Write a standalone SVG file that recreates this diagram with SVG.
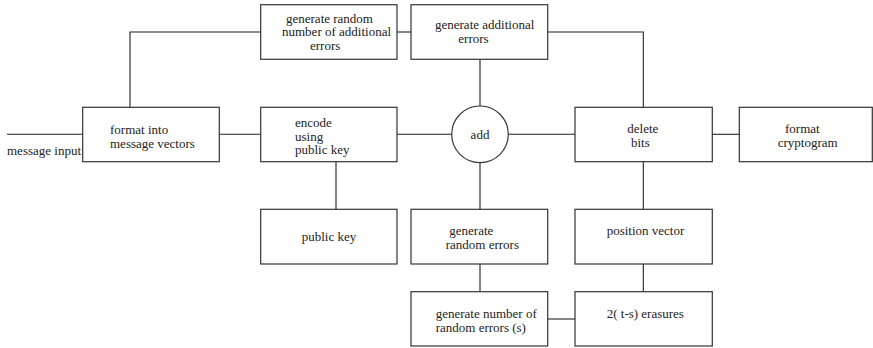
<svg xmlns="http://www.w3.org/2000/svg" width="873" height="348" viewBox="0 0 873 348">
  <style>
    .box { fill: #ffffff; stroke: #333333; stroke-width: 1.2; }
    .wire { fill: none; stroke: #222222; stroke-width: 1.1; }
    .lbl { font-family: 'Liberation Serif', 'DejaVu Serif', 'Times New Roman', serif; font-size: 13px; fill: #222222; }
  </style>
  <rect width="873" height="348" fill="#ffffff"/>

  <!-- connectors -->
  <g id="connectors">
    <path class="wire" d="M7,134.3 H82.7"/>
    <path class="wire" d="M219.3,134.3 H260.7"/>
    <path class="wire" d="M130,107.3 V32 H260.7"/>
    <path class="wire" d="M397,32 H411"/>
    <path class="wire" d="M547.7,32 H643.3 V107.3"/>
    <path class="wire" d="M480,59.3 V106"/>
    <path class="wire" d="M397,134.3 H451.7"/>
    <path class="wire" d="M508.3,134.3 H575"/>
    <path class="wire" d="M712.3,134.3 H739.3"/>
    <path class="wire" d="M336,161.7 V209.3"/>
    <path class="wire" d="M480,162.6 V209.3"/>
    <path class="wire" d="M480,264 V291.7"/>
    <path class="wire" d="M643.3,161.7 V209.3"/>
    <path class="wire" d="M643.3,264 V291.7"/>
    <path class="wire" d="M547.7,319 H575"/>
  </g>

  <g class="lbl" font-family="Liberation Serif, DejaVu Serif, serif" font-size="13">
    <text x="7" y="155">message input</text>

    <g id="format-vectors">
      <rect class="box" x="82.7" y="107.3" width="136.6" height="54.4"/>
      <text x="110" y="134.3">format into</text>
      <text x="110" y="148">message vectors</text>
    </g>

    <g id="gen-random-number">
      <rect class="box" x="260.7" y="4.7" width="136.3" height="54.6"/>
      <text x="286" y="22.7">generate random</text>
      <text x="282" y="36.3">number of additional</text>
      <text x="310" y="50">errors</text>
    </g>

    <g id="gen-additional">
      <rect class="box" x="411" y="4.7" width="136.7" height="54.6"/>
      <text x="435" y="29.3">generate additional</text>
      <text x="458.3" y="42.7">errors</text>
    </g>

    <g id="encode">
      <rect class="box" x="260.7" y="107.3" width="136.3" height="54.4"/>
      <text x="295" y="127.2">encode</text>
      <text x="295" y="140.6">using</text>
      <text x="295" y="154">public key</text>
    </g>

    <g id="add">
      <circle class="box" cx="480" cy="134.3" r="28.3"/>
      <text x="480" y="138.5" text-anchor="middle">add</text>
    </g>

    <g id="delete-bits">
      <rect class="box" x="575" y="107.3" width="137.3" height="54.4"/>
      <text x="627.3" y="133.3">delete</text>
      <text x="631" y="146.7">bits</text>
    </g>

    <g id="format-cryptogram">
      <rect class="box" x="739.3" y="107.3" width="133" height="54.4"/>
      <text x="785" y="133.3">format</text>
      <text x="777.7" y="146.7">cryptogram</text>
    </g>

    <g id="public-key">
      <rect class="box" x="260.7" y="209.3" width="136.3" height="54.7"/>
      <text x="301.7" y="241">public key</text>
    </g>

    <g id="gen-random-errors">
      <rect class="box" x="411" y="209.3" width="136.7" height="54.7"/>
      <text x="449.3" y="235">generate</text>
      <text x="445.7" y="249.3">random errors</text>
    </g>

    <g id="gen-number-errors">
      <rect class="box" x="411" y="291.7" width="136.7" height="54.3"/>
      <text x="435.7" y="317.7">generate number of</text>
      <text x="435.7" y="331.7">random errors (s)</text>
    </g>

    <g id="position-vector">
      <rect class="box" x="575" y="209.3" width="137.3" height="54.7"/>
      <text x="606.7" y="235">position vector</text>
    </g>

    <g id="erasures">
      <rect class="box" x="575" y="291.7" width="137.3" height="54.3"/>
      <text x="606.7" y="317.7">2( t-s) erasures</text>
    </g>
  </g>
</svg>
